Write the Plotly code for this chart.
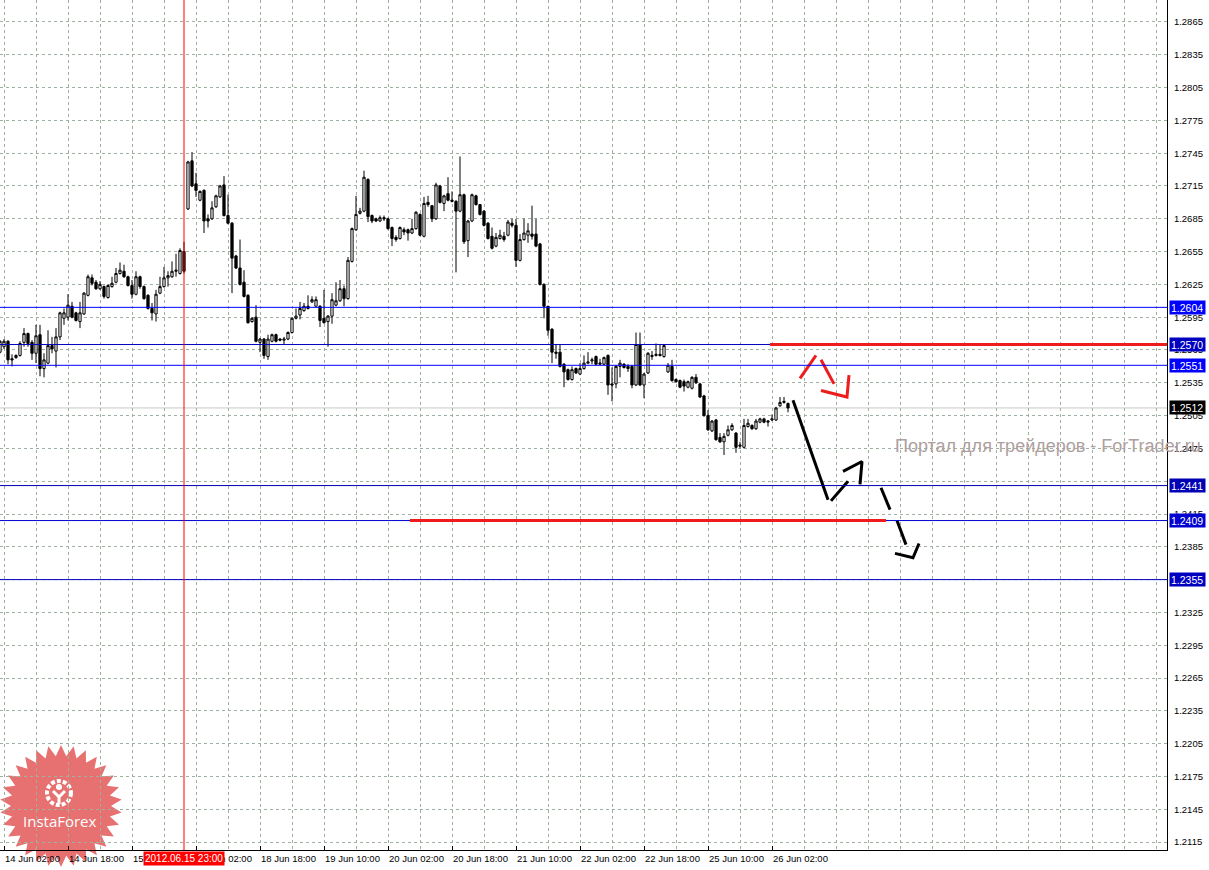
import math
import pandas as pd
import plotly.graph_objects as go

# ---------------- data ----------------
# hourly bars (weekend hours are not traded)
hours = pd.date_range("2012-06-14 01:00", "2012-06-26 06:00", freq="h")
bar_times = [t.strftime("%d %b %H:%M") for t in hours if t.weekday() < 5]

opens = [
    1.2563, 1.2568, 1.2573, 1.2557, 1.2558, 1.2560, 1.2572, 1.2580, 1.2572, 1.2562,
    1.2579, 1.2548, 1.2553, 1.2569, 1.2564, 1.2577, 1.2594, 1.2595, 1.2605, 1.2599,
    1.2591, 1.2598, 1.2615, 1.2631, 1.2627, 1.2621, 1.2623, 1.2613, 1.2623, 1.2627,
    1.2635, 1.2637, 1.2632, 1.2624, 1.2616, 1.2632, 1.2623, 1.2615, 1.2603, 1.2598,
    1.2617, 1.2623, 1.2631, 1.2632, 1.2637, 1.2635, 1.2655, 1.2694, 1.2738, 1.2717,
    1.2702, 1.2711, 1.2685, 1.2685, 1.2696, 1.2705, 1.2716, 1.2688, 1.2681, 1.2651,
    1.2640, 1.2627, 1.2615, 1.2591, 1.2595, 1.2572, 1.2575, 1.2559, 1.2573, 1.2579,
    1.2575, 1.2574, 1.2575, 1.2581, 1.2594, 1.2597, 1.2601, 1.2605, 1.2609, 1.2605,
    1.2605, 1.2594, 1.2591, 1.2596, 1.2606, 1.2610, 1.2621, 1.2612, 1.2646, 1.2675,
    1.2690, 1.2692, 1.2721, 1.2688, 1.2685, 1.2683, 1.2686, 1.2685, 1.2677, 1.2668,
    1.2667, 1.2675, 1.2675, 1.2672, 1.2676, 1.2689, 1.2669, 1.2700, 1.2697, 1.2685,
    1.2715, 1.2699, 1.2708, 1.2702, 1.2701, 1.2692, 1.2707, 1.2665, 1.2683, 1.2706,
    1.2698, 1.2692, 1.2681, 1.2669, 1.2660, 1.2667, 1.2669, 1.2670, 1.2681, 1.2679,
    1.2647, 1.2666, 1.2670, 1.2671, 1.2671, 1.2662, 1.2625, 1.2605, 1.2584, 1.2563,
    1.2563, 1.2552, 1.2547, 1.2538, 1.2548, 1.2543, 1.2548, 1.2553, 1.2555, 1.2559,
    1.2552, 1.2552, 1.2560, 1.2534, 1.2534, 1.2550, 1.2552, 1.2550, 1.2550, 1.2533,
    1.2570, 1.2533, 1.2544, 1.2559, 1.2560, 1.2561, 1.2559, 1.2545, 1.2550, 1.2538,
    1.2537, 1.2536, 1.2531, 1.2530, 1.2540, 1.2534, 1.2523, 1.2505, 1.2491, 1.2501,
    1.2485, 1.2481, 1.2487, 1.2492, 1.2489, 1.2477, 1.2476, 1.2495, 1.2496, 1.2493,
    1.2499, 1.2502, 1.2499, 1.2501, 1.2501, 1.2514, 1.2517, 1.2516,
]
highs = [
    1.2574, 1.2575, 1.2574, 1.2561, 1.2561, 1.2573, 1.2585, 1.2581, 1.2574, 1.2588,
    1.2588, 1.2562, 1.2583, 1.2577, 1.2585, 1.2600, 1.2603, 1.2616, 1.2609, 1.2600,
    1.2609, 1.2618, 1.2634, 1.2634, 1.2629, 1.2628, 1.2624, 1.2625, 1.2632, 1.2640,
    1.2645, 1.2643, 1.2633, 1.2629, 1.2637, 1.2633, 1.2624, 1.2616, 1.2608, 1.2620,
    1.2632, 1.2641, 1.2637, 1.2646, 1.2653, 1.2658, 1.2664, 1.2738, 1.2746, 1.2727,
    1.2711, 1.2712, 1.2689, 1.2701, 1.2707, 1.2716, 1.2724, 1.2707, 1.2682, 1.2652,
    1.2666, 1.2638, 1.2616, 1.2595, 1.2606, 1.2576, 1.2576, 1.2579, 1.2580, 1.2580,
    1.2576, 1.2577, 1.2582, 1.2595, 1.2603, 1.2609, 1.2608, 1.2615, 1.2614, 1.2614,
    1.2606, 1.2620, 1.2597, 1.2617, 1.2627, 1.2629, 1.2624, 1.2650, 1.2677, 1.2706,
    1.2695, 1.2729, 1.2722, 1.2689, 1.2686, 1.2688, 1.2688, 1.2686, 1.2678, 1.2670,
    1.2678, 1.2677, 1.2676, 1.2685, 1.2692, 1.2690, 1.2705, 1.2706, 1.2697, 1.2718,
    1.2716, 1.2707, 1.2723, 1.2710, 1.2702, 1.2742, 1.2708, 1.2684, 1.2708, 1.2707,
    1.2698, 1.2693, 1.2682, 1.2677, 1.2672, 1.2675, 1.2673, 1.2684, 1.2685, 1.2685,
    1.2671, 1.2685, 1.2681, 1.2697, 1.2685, 1.2663, 1.2626, 1.2605, 1.2585, 1.2570,
    1.2570, 1.2553, 1.2548, 1.2550, 1.2549, 1.2553, 1.2560, 1.2563, 1.2558, 1.2560,
    1.2557, 1.2559, 1.2561, 1.2549, 1.2551, 1.2556, 1.2553, 1.2552, 1.2551, 1.2581,
    1.2581, 1.2544, 1.2563, 1.2564, 1.2571, 1.2570, 1.2570, 1.2553, 1.2556, 1.2539,
    1.2538, 1.2538, 1.2537, 1.2541, 1.2543, 1.2535, 1.2524, 1.2510, 1.2501, 1.2502,
    1.2489, 1.2489, 1.2496, 1.2498, 1.2490, 1.2481, 1.2502, 1.2502, 1.2497, 1.2502,
    1.2503, 1.2503, 1.2501, 1.2506, 1.2513, 1.2522, 1.2522, 1.2517,
]
lows = [
    1.2562, 1.2566, 1.2552, 1.2550, 1.2557, 1.2559, 1.2568, 1.2568, 1.2556, 1.2553,
    1.2541, 1.2540, 1.2552, 1.2562, 1.2549, 1.2574, 1.2588, 1.2592, 1.2594, 1.2591,
    1.2585, 1.2597, 1.2614, 1.2624, 1.2620, 1.2620, 1.2612, 1.2612, 1.2622, 1.2626,
    1.2634, 1.2631, 1.2623, 1.2612, 1.2615, 1.2621, 1.2611, 1.2602, 1.2592, 1.2591,
    1.2616, 1.2622, 1.2623, 1.2631, 1.2632, 1.2634, 1.2635, 1.2693, 1.2714, 1.2705,
    1.2701, 1.2672, 1.2677, 1.2684, 1.2695, 1.2704, 1.2687, 1.2680, 1.2617, 1.2639,
    1.2624, 1.2613, 1.2589, 1.2590, 1.2572, 1.2563, 1.2557, 1.2556, 1.2572, 1.2572,
    1.2573, 1.2570, 1.2574, 1.2580, 1.2593, 1.2593, 1.2600, 1.2602, 1.2608, 1.2605,
    1.2586, 1.2589, 1.2568, 1.2589, 1.2605, 1.2609, 1.2605, 1.2611, 1.2645, 1.2674,
    1.2689, 1.2691, 1.2682, 1.2681, 1.2682, 1.2682, 1.2683, 1.2675, 1.2660, 1.2664,
    1.2666, 1.2670, 1.2665, 1.2671, 1.2675, 1.2669, 1.2668, 1.2696, 1.2682, 1.2684,
    1.2699, 1.2692, 1.2701, 1.2700, 1.2636, 1.2691, 1.2662, 1.2650, 1.2682, 1.2697,
    1.2688, 1.2678, 1.2666, 1.2657, 1.2659, 1.2666, 1.2664, 1.2669, 1.2677, 1.2641,
    1.2646, 1.2665, 1.2663, 1.2666, 1.2659, 1.2624, 1.2594, 1.2578, 1.2553, 1.2557,
    1.2549, 1.2531, 1.2537, 1.2537, 1.2543, 1.2542, 1.2547, 1.2552, 1.2552, 1.2551,
    1.2551, 1.2551, 1.2524, 1.2518, 1.2530, 1.2540, 1.2548, 1.2545, 1.2530, 1.2532,
    1.2532, 1.2521, 1.2543, 1.2556, 1.2559, 1.2559, 1.2558, 1.2544, 1.2536, 1.2535,
    1.2530, 1.2527, 1.2530, 1.2529, 1.2534, 1.2521, 1.2504, 1.2491, 1.2490, 1.2482,
    1.2480, 1.2469, 1.2486, 1.2491, 1.2471, 1.2475, 1.2475, 1.2494, 1.2492, 1.2492,
    1.2498, 1.2498, 1.2495, 1.2500, 1.2500, 1.2513, 1.2516, 1.2508,
]
closes = [
    1.2573, 1.2573, 1.2556, 1.2556, 1.2560, 1.2571, 1.2580, 1.2571, 1.2562, 1.2578,
    1.2548, 1.2556, 1.2569, 1.2566, 1.2577, 1.2599, 1.2599, 1.2606, 1.2595, 1.2592,
    1.2599, 1.2617, 1.2632, 1.2626, 1.2621, 1.2625, 1.2614, 1.2624, 1.2626, 1.2635,
    1.2638, 1.2632, 1.2624, 1.2616, 1.2632, 1.2623, 1.2612, 1.2603, 1.2599, 1.2616,
    1.2623, 1.2631, 1.2633, 1.2637, 1.2638, 1.2656, 1.2637, 1.2737, 1.2715, 1.2711,
    1.2710, 1.2683, 1.2683, 1.2695, 1.2706, 1.2715, 1.2688, 1.2681, 1.2649, 1.2640,
    1.2625, 1.2614, 1.2590, 1.2594, 1.2573, 1.2575, 1.2560, 1.2575, 1.2579, 1.2573,
    1.2574, 1.2575, 1.2581, 1.2594, 1.2596, 1.2603, 1.2605, 1.2603, 1.2611, 1.2611,
    1.2592, 1.2590, 1.2596, 1.2611, 1.2610, 1.2621, 1.2612, 1.2647, 1.2676, 1.2689,
    1.2692, 1.2723, 1.2687, 1.2683, 1.2683, 1.2686, 1.2685, 1.2676, 1.2667, 1.2666,
    1.2677, 1.2673, 1.2672, 1.2676, 1.2691, 1.2670, 1.2699, 1.2698, 1.2685, 1.2716,
    1.2700, 1.2706, 1.2702, 1.2701, 1.2692, 1.2707, 1.2664, 1.2683, 1.2707, 1.2698,
    1.2689, 1.2679, 1.2667, 1.2658, 1.2668, 1.2670, 1.2666, 1.2682, 1.2679, 1.2647,
    1.2666, 1.2672, 1.2674, 1.2669, 1.2660, 1.2625, 1.2605, 1.2583, 1.2563, 1.2562,
    1.2550, 1.2545, 1.2538, 1.2547, 1.2544, 1.2548, 1.2553, 1.2554, 1.2556, 1.2552,
    1.2553, 1.2558, 1.2533, 1.2533, 1.2550, 1.2553, 1.2549, 1.2548, 1.2533, 1.2570,
    1.2533, 1.2543, 1.2562, 1.2560, 1.2561, 1.2560, 1.2569, 1.2551, 1.2537, 1.2536,
    1.2531, 1.2532, 1.2536, 1.2540, 1.2535, 1.2522, 1.2505, 1.2492, 1.2500, 1.2483,
    1.2481, 1.2486, 1.2492, 1.2496, 1.2476, 1.2478, 1.2496, 1.2498, 1.2493, 1.2500,
    1.2502, 1.2499, 1.2500, 1.2502, 1.2512, 1.2517, 1.2518, 1.2512,
]
assert len(opens) == len(highs) == len(lows) == len(closes) == len(bar_times)

tick_labels = ["14 Jun 02:00", "14 Jun 18:00", "15 Jun 10:00", "18 Jun 02:00",
               "18 Jun 18:00", "19 Jun 10:00", "20 Jun 02:00", "20 Jun 18:00",
               "21 Jun 10:00", "22 Jun 02:00", "22 Jun 18:00", "25 Jun 10:00",
               "26 Jun 02:00"]

level_prices = [1.2604, 1.2570, 1.2551, 1.2441, 1.2409, 1.2355]
level_colors = ["#0000ff", "#0000c0", "#0000ff", "#0000b4", "#0000d0", "#0000c0"]
bid_price = 1.2512
marker_time = "15 Jun 23:00"
marker_text = "2012.06.15 23:00"

red_levels = [1.2570, 1.2409]
red_from = [192.5, 102.5]   # bar positions
red_to = [292.0, 221.5]

# hand-drawn forecast arrows (bar position, price)
black_path_x = [198.25, 207.0, None, 207.75, 212.0, None, 210.75, 215.5, 215.0, None,
                220.25, 222.5, None, 224.25, 226.5, None, 223.75, 228.25, 229.75]
black_path_y = [1.2519, 1.2428, None, 1.2427, 1.2445, None, 1.2454, 1.2463, 1.2442, None,
                1.2439, 1.2419, None, 1.2409, 1.2387, None, 1.2379, 1.2375, 1.2388]
red_path_x = [200.0, 204.0, None, 205.25, 208.5, None, 205.25, 211.75, 212.25]
red_path_y = [1.2539, 1.2560, None, 1.2556, 1.2534, None, 1.2528, 1.2522, 1.2542]

watermark = "Портал для трейдеров - ForTrader.ru"
logo_text = "InstaForex"

# ---------------- figure ----------------
W, H = 1209, 870
ML, MR, MT, MB = 0, 42, 0, 20
PW, PH = W - ML - MR, H - MT - MB

x_pos = list(range(len(bar_times)))
tickvals = [bar_times.index(t) for t in tick_labels]
marker_x = bar_times.index(marker_time)

GRID = "rgb(160,176,160)"
FONT = "Liberation Sans"

fig = go.Figure()
fig.add_trace(go.Candlestick(
    x=x_pos, open=opens, high=highs, low=lows, close=closes,
    increasing=dict(line=dict(color="black", width=1), fillcolor="white"),
    decreasing=dict(line=dict(color="black", width=1), fillcolor="black"),
    whiskerwidth=0, showlegend=False, hoverinfo="skip",
))
fig.add_trace(go.Scatter(x=black_path_x, y=black_path_y, mode="lines",
                         line=dict(color="black", width=3), showlegend=False,
                         hoverinfo="skip"))
fig.add_trace(go.Scatter(x=red_path_x, y=red_path_y, mode="lines",
                         line=dict(color="#ee1c1c", width=3), showlegend=False,
                         hoverinfo="skip"))

shapes = []
# bid line
shapes.append(dict(type="line", xref="paper", x0=0, x1=1, yref="y", y0=bid_price,
                   y1=bid_price, line=dict(color="#c8c8c8", width=1), layer="below"))
for p, c in zip(level_prices, level_colors):
    shapes.append(dict(type="line", xref="paper", x0=0, x1=1, yref="y", y0=p, y1=p,
                       line=dict(color=c, width=1)))
for p, a, b in zip(red_levels, red_from, red_to):
    shapes.append(dict(type="line", xref="x", x0=a, x1=b, yref="y", y0=p, y1=p,
                       line=dict(color="#ee1c1c", width=3)))
shapes.append(dict(type="line", xref="x", x0=marker_x, x1=marker_x, yref="paper",
                   y0=0, y1=1, line=dict(color="red", width=1)))


# InstaForex seal (decoration)
def px2paper(px, py):
    return px / PW, 1 - py / PH


def star_path(cx, cy, r_out, r_in, n):
    pts = []
    for k in range(2 * n):
        r = r_out if k % 2 == 0 else r_in
        a = math.pi / 2 + k * math.pi / n
        X, Y = px2paper(cx + r * math.cos(a), cy - r * math.sin(a))
        pts.append(f"{X:.5f},{Y:.5f}")
    return "M" + " L".join(pts) + " Z"


shapes.append(dict(type="path", xref="paper", yref="paper",
                   path=star_path(61, 806, 61, 50, 30),
                   fillcolor="rgba(226,80,80,0.82)", line=dict(width=0), layer="below"))
# icon: ring + figure
cx0, cy0 = px2paper(47, 781)
cx1, cy1 = px2paper(71, 805)
shapes.append(dict(type="circle", xref="paper", yref="paper", x0=cx0, y0=cy1, x1=cx1, y1=cy0,
                   line=dict(color="white", width=4, dash="4px,2px"), layer="below"))
hx0, hy0 = px2paper(56, 784)
hx1, hy1 = px2paper(62, 790)
shapes.append(dict(type="circle", xref="paper", yref="paper", x0=hx0, y0=hy1, x1=hx1, y1=hy0,
                   fillcolor="white", line=dict(width=0), layer="below"))
p1 = px2paper(53, 791); p2 = px2paper(59, 797); p3 = px2paper(65, 791); p4 = px2paper(59, 804)
shapes.append(dict(type="path", xref="paper", yref="paper",
                   path=f"M{p1[0]:.5f},{p1[1]:.5f} L{p2[0]:.5f},{p2[1]:.5f} L{p3[0]:.5f},{p3[1]:.5f} "
                        f"M{p2[0]:.5f},{p2[1]:.5f} L{p4[0]:.5f},{p4[1]:.5f}",
                   line=dict(color="white", width=3), layer="below"))

annotations = []
# right-axis price labels
for p, c in zip(level_prices, level_colors):
    annotations.append(dict(x=1, xref="paper", xanchor="left", xshift=2, y=p, yref="y",
                            text=f"{p:.4f}", showarrow=False, bgcolor=c, align="left",
                            font=dict(color="white", size=10.5, family=FONT),
                            width=33, height=11, borderpad=1))
annotations.append(dict(x=1, xref="paper", xanchor="left", xshift=2, y=bid_price, yref="y",
                        text=f"{bid_price:.4f}", showarrow=False, bgcolor="black", align="left",
                        font=dict(color="white", size=10.5, family=FONT),
                        width=33, height=11, borderpad=1))
# time marker label
annotations.append(dict(x=marker_x, xref="x", y=0, yref="paper", yanchor="top", yshift=-1,
                        text=marker_text, showarrow=False, bgcolor="#ff0000",
                        font=dict(color="white", size=10, family=FONT), borderpad=1))
# watermark
wx, wy = px2paper(893, 446)
annotations.append(dict(x=wx, y=wy, xref="paper", yref="paper", xanchor="left",
                        yanchor="middle", text=watermark, showarrow=False,
                        font=dict(color="#ae9f9f", size=18, family=FONT)))
# logo text
lx, ly = px2paper(60, 821)
annotations.append(dict(x=lx, y=ly, xref="paper", yref="paper", xanchor="center",
                        yanchor="middle", text=logo_text, showarrow=False,
                        font=dict(color="white", size=15, family="Open Sans")))

fig.update_layout(
    width=W, height=H,
    margin=dict(l=ML, r=MR, t=MT, b=MB, pad=0),
    plot_bgcolor="white", paper_bgcolor="white",
    showlegend=False, boxgap=0.2,
    shapes=shapes, annotations=annotations,
    xaxis=dict(
        range=[0, 291.75], rangeslider=dict(visible=False),
        tickmode="array", tickvals=tickvals, ticktext=tick_labels,
        ticklabelposition="outside right",
        ticks="inside", ticklen=4, tickcolor="black",
        showline=True, linecolor="black", linewidth=1,
        showgrid=True, gridcolor=GRID, griddash="3px,3px", gridwidth=1,
        minor=dict(tickmode="linear", tick0=1, dtick=8, showgrid=True,
                   gridcolor=GRID, griddash="3px,3px", ticks=""),
        zeroline=False,
        tickfont=dict(size=9.5, color="black", family=FONT),
    ),
    yaxis=dict(
        side="right", range=[1.21077, 1.28851],
        tickmode="linear", tick0=1.2115, dtick=0.003, tickformat=".4f",
        showgrid=True, gridcolor=GRID, griddash="3px,3px", gridwidth=1,
        showline=True, linecolor="black", linewidth=1,
        ticks="", ticklabelstandoff=4, zeroline=False,
        tickfont=dict(size=9.5, color="black", family=FONT),
    ),
)

fig.write_html("out.html", config={"displayModeBar": False},
               post_script="document.body.style.margin='0px';")
